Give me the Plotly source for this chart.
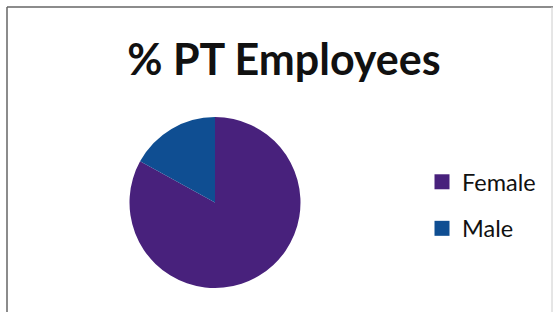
import plotly.graph_objects as go

labels = ["Female", "Male"]
values = [83, 17]
colors = ["#48217c", "#0f4e92"]
title_text = "% PT Employees"

W, H = 554, 312

fig = go.Figure()
fig.add_trace(go.Pie(
    labels=labels,
    values=values,
    sort=False,
    direction="clockwise",
    rotation=0,
    textinfo="none",
    hoverinfo="label+percent",
    showlegend=False,
    marker=dict(colors=colors, line=dict(width=0)),
    domain=dict(x=[129.5 / W, 300.5 / W], y=[1 - 288 / H, 1 - 117 / H]),
))

# legend keys (one group each so the gap between entries can be set)
for lab, col in zip(labels, colors):
    fig.add_trace(go.Scatter(
        x=[None], y=[None], mode="markers", name=lab, legendgroup=lab,
        marker=dict(symbol="square", size=15, color=col),
        hoverinfo="skip", showlegend=True,
    ))

fig.update_layout(
    width=W, height=H,
    margin=dict(l=0, r=0, t=0, b=0),
    paper_bgcolor="white",
    plot_bgcolor="white",
    xaxis=dict(visible=False),
    yaxis=dict(visible=False),
    font=dict(family="Lato, Calibri, sans-serif", color="#111111"),
    title=dict(text="<b>" + title_text + "</b>", x=284 / W, xanchor="center",
               y=1 - 60 / H, yanchor="middle",
               font=dict(size=43, family="Lato, Calibri, sans-serif", color="#111111")),
    legend=dict(x=422 / W, y=1 - 160 / H, xanchor="left", yanchor="top",
                tracegroupgap=13,
                font=dict(size=23.5, family="Lato, Calibri, sans-serif", color="#111111"),
                bgcolor="rgba(0,0,0,0)"),
    shapes=[
        dict(type="line", xref="paper", yref="paper", x0=7 / W, x1=7 / W, y0=0, y1=1 - 7 / H,
             line=dict(color="#666666", width=1.5)),
        dict(type="line", xref="paper", yref="paper", x0=7 / W, x1=553 / W, y0=1 - 7 / H, y1=1 - 7 / H,
             line=dict(color="#666666", width=1.5)),
        dict(type="line", xref="paper", yref="paper", x0=552 / W, x1=552 / W, y0=0, y1=1 - 7 / H,
             line=dict(color="#cccccc", width=1)),
    ],
)

fig.write_html("out.html", config={"displayModeBar": False},
               post_script="document.body.style.margin='0';")
